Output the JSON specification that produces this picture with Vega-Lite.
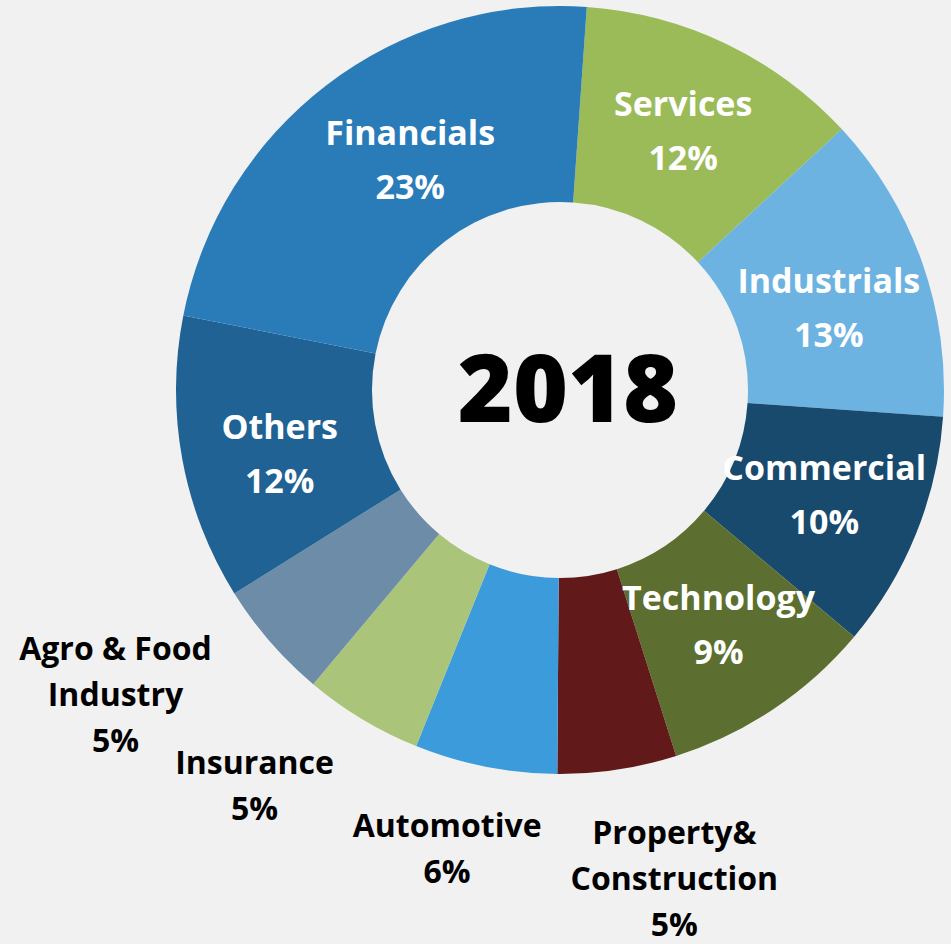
{
  "$schema": "https://vega.github.io/schema/vega-lite/v6.json",
  "width": 770,
  "height": 770,
  "autosize": {"type": "none"},
  "padding": {"left": 175, "top": 5, "right": 6, "bottom": 169},
  "background": "#F1F1F1",
  "config": {"view": {"stroke": null}},
  "data": {
    "values": [
      {"sector": "Services", "label": "Services", "value": 12},
      {"sector": "Industrials", "label": "Industrials", "value": 13},
      {"sector": "Commercial", "label": "Commercial", "value": 10},
      {"sector": "Technology", "label": "Technology", "value": 9},
      {"sector": "Property & Construction", "label": "Property&\nConstruction", "value": 5},
      {"sector": "Automotive", "label": "Automotive", "value": 6},
      {"sector": "Insurance", "label": "Insurance", "value": 5},
      {"sector": "Agro & Food Industry", "label": "Agro & Food\nIndustry", "value": 5},
      {"sector": "Others", "label": "Others", "value": 12},
      {"sector": "Financials", "label": "Financials", "value": 23}
    ]
  },
  "transform": [
    {"window": [{"op": "row_number", "as": "i"}]},
    {"calculate": "datum.label + '\\n' + datum.value + '%'", "as": "txt"}
  ],
  "layer": [
    {
      "mark": {"type": "arc", "outerRadius": 384, "innerRadius": 188},
      "encoding": {
        "theta": {"field": "value", "type": "quantitative", "stack": true, "scale": {"range": [0.0698, 6.353]}},
        "order": {"field": "i", "type": "quantitative"},
        "color": {
          "field": "sector",
          "type": "nominal",
          "legend": null,
          "scale": {
            "domain": ["Services", "Industrials", "Commercial", "Technology", "Property & Construction", "Automotive", "Insurance", "Agro & Food Industry", "Others", "Financials"],
            "range": ["#9BBB59", "#6CB3E2", "#184A6E", "#5C6F30", "#611919", "#3C9BDB", "#AAC47A", "#6C8CA8", "#1F6293", "#2A7CB9"]
          }
        }
      }
    },
    {
      "mark": {"type": "text", "radius": 285, "dy": -27, "font": "Open Sans", "fontWeight": "bold", "fontSize": 34, "lineHeight": 54, "lineBreak": "\n", "fill": "#FFFFFF", "align": "center", "baseline": "middle"},
      "encoding": {
        "theta": {"field": "value", "type": "quantitative", "stack": true},
        "order": {"field": "i", "type": "quantitative"},
        "detail": {"field": "sector", "type": "nominal"},
        "text": {"condition": {"test": "indexof(['Services','Commercial','Technology'], datum.sector) >= 0", "field": "txt"}, "value": ""}
      }
    },
    {
      "mark": {"type": "text", "radius": 285, "dy": -12, "font": "Open Sans", "fontWeight": "bold", "fontSize": 34, "lineHeight": 54, "lineBreak": "\n", "fill": "#FFFFFF", "align": "center", "baseline": "middle"},
      "encoding": {
        "theta": {"field": "value", "type": "quantitative", "stack": true},
        "order": {"field": "i", "type": "quantitative"},
        "detail": {"field": "sector", "type": "nominal"},
        "text": {"condition": {"test": "datum.sector === 'Industrials' || datum.sector === 'Others'", "field": "txt"}, "value": ""}
      }
    },
    {
      "mark": {"type": "text", "radius": 273, "dx": 16, "dy": -38, "font": "Open Sans", "fontWeight": "bold", "fontSize": 34, "lineHeight": 54, "lineBreak": "\n", "fill": "#FFFFFF", "align": "center", "baseline": "middle"},
      "encoding": {
        "theta": {"field": "value", "type": "quantitative", "stack": true},
        "order": {"field": "i", "type": "quantitative"},
        "detail": {"field": "sector", "type": "nominal"},
        "text": {"condition": {"test": "datum.sector === 'Financials'", "field": "txt"}, "value": ""}
      }
    },
    {
      "mark": {"type": "text", "radius": 536, "dx": -40, "dy": -92, "font": "Open Sans", "fontWeight": "bold", "fontSize": 32, "lineHeight": 46, "lineBreak": "\n", "fill": "#000000", "align": "center", "baseline": "middle"},
      "encoding": {
        "theta": {"field": "value", "type": "quantitative", "stack": true},
        "order": {"field": "i", "type": "quantitative"},
        "detail": {"field": "sector", "type": "nominal"},
        "text": {"condition": {"test": "datum.sector === 'Agro & Food Industry'", "field": "txt"}, "value": ""}
      }
    },
    {
      "mark": {"type": "text", "radius": 496, "dx": -50, "dy": -51, "font": "Open Sans", "fontWeight": "bold", "fontSize": 32, "lineHeight": 46, "lineBreak": "\n", "fill": "#000000", "align": "center", "baseline": "middle"},
      "encoding": {
        "theta": {"field": "value", "type": "quantitative", "stack": true},
        "order": {"field": "i", "type": "quantitative"},
        "detail": {"field": "sector", "type": "nominal"},
        "text": {"condition": {"test": "datum.sector === 'Insurance'", "field": "txt"}, "value": ""}
      }
    },
    {
      "mark": {"type": "text", "radius": 473, "dx": -21, "dy": -27, "font": "Open Sans", "fontWeight": "bold", "fontSize": 32, "lineHeight": 46, "lineBreak": "\n", "fill": "#000000", "align": "center", "baseline": "middle"},
      "encoding": {
        "theta": {"field": "value", "type": "quantitative", "stack": true},
        "order": {"field": "i", "type": "quantitative"},
        "detail": {"field": "sector", "type": "nominal"},
        "text": {"condition": {"test": "datum.sector === 'Automotive'", "field": "txt"}, "value": ""}
      }
    },
    {
      "mark": {"type": "text", "radius": 504, "dx": 39, "dy": -54, "font": "Open Sans", "fontWeight": "bold", "fontSize": 32, "lineHeight": 46, "lineBreak": "\n", "fill": "#000000", "align": "center", "baseline": "middle"},
      "encoding": {
        "theta": {"field": "value", "type": "quantitative", "stack": true},
        "order": {"field": "i", "type": "quantitative"},
        "detail": {"field": "sector", "type": "nominal"},
        "text": {"condition": {"test": "datum.sector === 'Property & Construction'", "field": "txt"}, "value": ""}
      }
    },
    {
      "data": {"values": [{"year": "2018"}]},
      "mark": {"type": "text", "font": "Open Sans", "fontWeight": 800, "fontSize": 94, "fill": "#000000", "align": "center", "baseline": "middle", "dx": 8, "dy": 4},
      "encoding": {"text": {"field": "year", "type": "nominal"}}
    }
  ]
}
